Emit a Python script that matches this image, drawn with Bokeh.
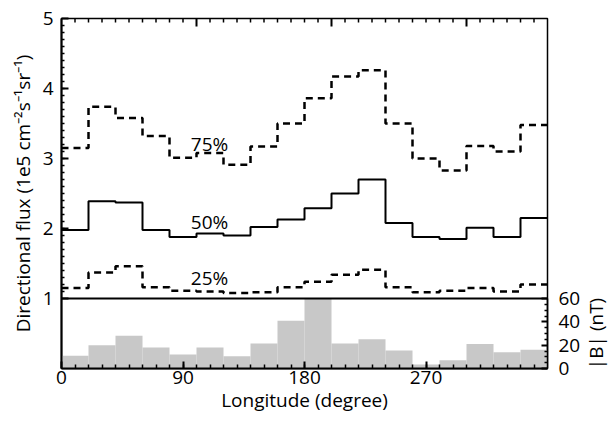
import math
from bokeh.plotting import figure
from bokeh.models import Range1d, LinearAxis, FixedTicker, Span, Label
from bokeh.core.properties import value
from bokeh.embed import file_html
from bokeh.resources import INLINE

# ---- data (20-degree longitude bins) ----
lon_start = [0, 20, 40, 60, 80, 100, 120, 140, 160, 180, 200, 220, 240, 260, 280, 300, 320, 340]
lon_end = [20, 40, 60, 80, 100, 120, 140, 160, 180, 200, 220, 240, 260, 280, 300, 320, 340, 360]
flux_75 = [3.15, 3.74, 3.58, 3.32, 3.01, 3.08, 2.91, 3.17, 3.50, 3.86, 4.17, 4.26, 3.50, 3.00, 2.83, 3.18, 3.10, 3.48]
flux_50 = [1.98, 2.39, 2.37, 1.98, 1.88, 1.93, 1.90, 2.02, 2.13, 2.29, 2.50, 2.70, 2.08, 1.88, 1.85, 2.01, 1.88, 2.15]
flux_25 = [1.15, 1.37, 1.46, 1.16, 1.11, 1.10, 1.08, 1.09, 1.16, 1.24, 1.34, 1.41, 1.16, 1.09, 1.11, 1.15, 1.10, 1.20]
b_field = [11, 20, 28, 18, 12, 18, 10.5, 21.5, 41, 60, 21.5, 25, 15.5, 3.5, 7, 21, 14, 16]
percentile_labels = ["75%", "50%", "25%"]
x_ticks = [0, 90, 180, 270]
top_ticks = [100, 200, 300]
y_ticks = [1, 2, 3, 4, 5]
b_ticks = [0, 20, 40, 60]

FONT = "Open Sans"
FS = "19px"

p = figure(width=609, height=421, x_range=Range1d(0, 360), y_range=Range1d(0, 5),
           output_backend="svg", toolbar_location=None,
           x_axis_type=None, y_axis_type=None,
           min_border_left=61, min_border_right=54, min_border_top=18, min_border_bottom=53)
p.extra_y_ranges = {"B": Range1d(0, 300)}
p.grid.visible = False
p.outline_line_color = "black"
p.outline_line_width = 1.5
p.background_fill_color = "white"
p.border_fill_color = "white"


def style_axis(ax, major_in=7, minor_in=4):
    ax.major_tick_in = major_in
    ax.major_tick_out = 0
    ax.minor_tick_in = minor_in
    ax.minor_tick_out = 0
    ax.major_tick_line_width = 2
    ax.minor_tick_line_width = 1.5
    ax.axis_line_width = 2
    ax.major_label_text_font = FONT
    ax.major_label_text_font_size = FS
    ax.major_label_text_color = "black"
    ax.axis_label_text_font = FONT
    ax.axis_label_text_font_size = FS
    ax.axis_label_text_font_style = "normal"
    ax.axis_label_text_color = "black"


# bottom axis
xb = LinearAxis(ticker=FixedTicker(ticks=x_ticks, minor_ticks=[v for v in range(10, 360, 10)]),
                axis_label="Longitude (degree)")
style_axis(xb)
xb.major_label_standoff = 2
xb.axis_label_standoff = 0
p.add_layout(xb, "below")

# left axis
yl = LinearAxis(ticker=FixedTicker(ticks=y_ticks, minor_ticks=[1 + 0.1 * i for i in range(1, 40)]),
                axis_label="Directional flux (1e5 cm\u207b\u00b2s\u207b\u00b9sr\u207b\u00b9)")
style_axis(yl, major_in=7, minor_in=3)
yl.major_label_standoff = 8
yl.axis_label_standoff = 4
p.add_layout(yl, "left")

# right axis for |B|
yr = LinearAxis(y_range_name="B", ticker=FixedTicker(ticks=b_ticks, minor_ticks=[5, 10, 15, 25, 30, 35, 45, 50, 55]),
                bounds=(0, 60))
style_axis(yr, major_in=6, minor_in=3)
yr.axis_line_width = 1.5
yr.major_label_standoff = 11
p.add_layout(yr, "right")

# |B| axis title, centred on the 0-60 nT span, drawn in the right side panel
p.add_layout(Label(x=396, y=30, y_range_name="B", text="|B| (nT)", angle=math.pi / 2,
                   text_font=FONT, text_font_size=FS, text_align="center", text_baseline="middle",
                   text_color="black"), "right")

# top-edge ticks (mirror of x axis, major every 100 degrees)
top_minor = [v for v in range(10, 360, 10) if v not in top_ticks]
p.segment(x0=top_minor, y0=5, x1=top_minor, y1=5 - 4 / 70, line_color="black", line_width=1.5)
p.segment(x0=top_ticks, y0=5, x1=top_ticks, y1=5 - 8 / 70, line_color="black", line_width=2)

# |B| histogram
p.quad(left=lon_start, right=lon_end, bottom=0, top=b_field, y_range_name="B",
       fill_color="#c8c8c8", line_color=None)

# separator at flux = 1
p.add_layout(Span(location=1, dimension="width", line_color="black", line_width=2))


def steps(vals):
    return lon_start + [lon_end[-1]], vals + [vals[-1]]


x75, y75 = steps(flux_75)
x50, y50 = steps(flux_50)
x25, y25 = steps(flux_25)
p.step(x75, y75, mode="after", line_color="black", line_width=2.5, line_dash="7 5")
p.step(x50, y50, mode="after", line_color="black", line_width=2)
p.step(x25, y25, mode="after", line_color="black", line_width=2.5, line_dash="7 5")

# percentile labels
label_x = [95.8, 95.8, 95.8]
label_y = [3.21, 2.09, 1.29]
p.text(x=label_x, y=label_y, text=percentile_labels, text_font=value(FONT),
       text_font_size=FS, text_baseline="middle", text_align="left", text_color="black")

open("out.html", "w").write(file_html(p, INLINE))
